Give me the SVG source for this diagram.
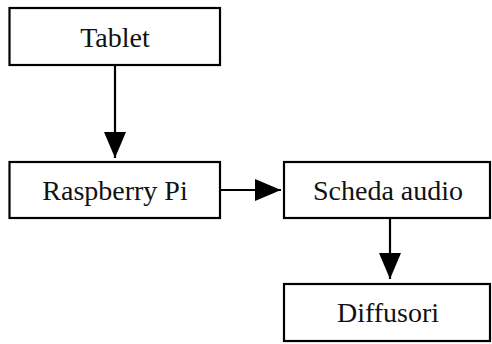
<svg xmlns="http://www.w3.org/2000/svg" width="492" height="344" viewBox="0 0 492 344">
<style>
.box{fill:#fff;stroke:#000;stroke-width:2.2}
.lbl{font-family:"Liberation Serif","Times New Roman",serif;font-size:28px;fill:#111;text-anchor:middle}
.edge{stroke:#000;stroke-width:2.2;fill:none}
</style>
<defs>
<marker id="arr" markerUnits="userSpaceOnUse" markerWidth="26" markerHeight="22" refX="26" refY="11" orient="auto">
<path d="M0,0 L26,11 L0,22 z" fill="#000"/>
</marker>
</defs>
<rect width="492" height="344" fill="#fff"/>
<g id="tablet"><rect class="box" x="9.5" y="8" width="210.5" height="57"/><text class="lbl" x="115" y="47">Tablet</text></g>
<g id="raspberry"><rect class="box" x="9.5" y="162" width="210.5" height="56"/><text class="lbl" x="115" y="200">Raspberry Pi</text></g>
<g id="scheda"><rect class="box" x="284" y="162" width="206" height="56"/><text class="lbl" x="388" y="200">Scheda audio</text></g>
<g id="diffusori"><rect class="box" x="284" y="284" width="206" height="57"/><text class="lbl" x="388" y="322">Diffusori</text></g>
<g id="connectors">
<line class="edge" x1="115" y1="65" x2="115" y2="158" marker-end="url(#arr)"/>
<line class="edge" x1="220" y1="190" x2="281" y2="190" marker-end="url(#arr)"/>
<line class="edge" x1="390" y1="218" x2="390" y2="279" marker-end="url(#arr)"/>
</g>
</svg>
